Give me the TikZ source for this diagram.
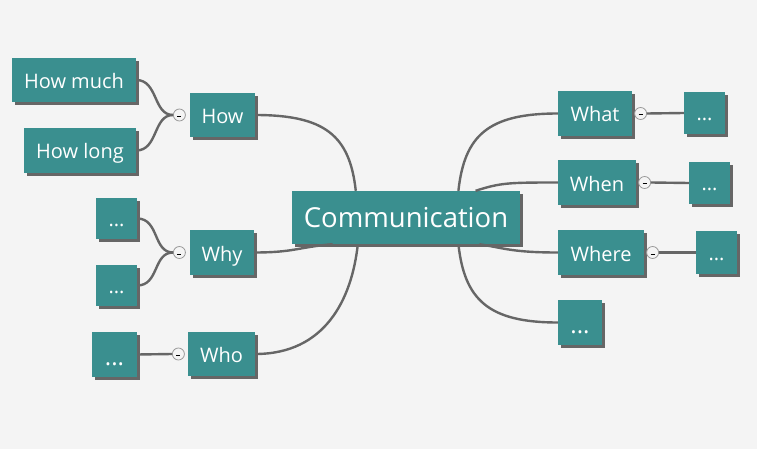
\documentclass[tikz,border=0pt]{standalone}
\usepackage{fontspec}
\setmainfont{Open Sans}
\usetikzlibrary{positioning,shadows}

\definecolor{mapteal}{RGB}{58,143,143}
\definecolor{mapgray}{RGB}{102,102,102}
\definecolor{mapback}{RGB}{244,244,244}
\newcommand{\knobdash}{\raisebox{-4pt}{\rule{4pt}{1pt}}}

\begin{document}
\begin{tikzpicture}[x=1pt,y=-1pt,
    topic/.style={rectangle, fill=mapteal, text=white, inner sep=0pt, minimum height=44pt,
      font=\fontsize{20}{24}\selectfont, text height=18pt, text depth=1pt,
      drop shadow={shadow xshift=3pt, shadow yshift=-3pt, fill=mapgray, opacity=1}},
    dots/.style={topic, text height=16pt, text depth=1pt},
    bigdots/.style={topic, font=\fontsize{24}{28}\selectfont, text height=23pt, text depth=1pt},
    knob/.style={circle, draw=gray!80, fill=mapback, line width=0.8pt, minimum size=12pt, inner sep=0pt},
    branch/.style={draw=mapgray, line width=2.4pt}]

      \fill [mapback] (0,0) rectangle (757,449);
   %   \draw[help lines, step=10] (0,0) grid (757,449);

      % centre
      \node [topic, minimum width=228pt, minimum height=53pt, font=\fontsize{27.5}{32}\selectfont,
             text height=20pt, text depth=0pt] (comm) at (406,217.5) {Communication};

      % left side
      \node [topic, minimum width=65pt] (how) at (222.5,115) {How};
      \node [knob, left=4pt of how] (howknob) {\knobdash};
      \node [topic, minimum width=124pt] (howmuch) at (74,80) {How much};
      \node [topic, minimum width=112pt, minimum height=45pt] (howlong) at (80,150.5) {How long};

      \node [topic, minimum width=64pt, minimum height=45pt] (why) at (222,252.5) {Why};
      \node [knob, left=4pt of why] (whyknob) {\knobdash};
      \node [dots, minimum width=41pt, minimum height=41pt] (whyone) at (116.5,218.5) {...};
      \node [dots, minimum width=41pt, minimum height=41pt] (whytwo) at (116.5,285.5) {...};

      \node [topic, minimum width=67pt] (who) at (221.5,354) {Who};
      \node [knob, left=3pt of who] (whoknob) {\knobdash};
      \node [bigdots, minimum width=45pt, minimum height=45pt] (whoone) at (114.5,354.5) {...};

      % right side
      \node [topic, minimum width=74pt, minimum height=45pt] (what) at (595,113.5) {What};
      \node [knob, right=2pt of what] (whatknob) {\knobdash};
      \node [dots, minimum width=41pt, minimum height=42pt] (whatone) at (704.5,113) {...};

      \node [topic, minimum width=78pt, minimum height=45pt] (when) at (597,182.5) {When};
      \node [knob, right=2pt of when] (whenknob) {\knobdash};
      \node [dots, minimum width=41pt, minimum height=42pt] (whenone) at (709.5,183) {...};

      \node [topic, minimum width=86pt, minimum height=45pt] (where) at (601,252.5) {Where};
      \node [knob, right=2pt of where] (whereknob) {\knobdash};
      \node [dots, minimum width=41pt, minimum height=43pt] (whereone) at (716.5,252.5) {...};

      \node [bigdots, minimum width=44pt, minimum height=45pt] (more) at (580,322.5) {...};

      % main branches
      \draw [branch] (how.east) .. controls +(70,0) and +(-6,-55) .. (comm.152);
      \draw [branch] (why.east) .. controls +(40,0) and +(-35,3) .. (comm.200);
      \draw [branch] (who.east) .. controls +(70,0) and +(-6,55) .. (comm.209);
      \draw [branch] (what.west) .. controls +(-70,0) and +(6,-55) .. (comm.27.5);
      \draw [branch] (when.west) .. controls +(-50,0) and +(25,-8) .. (comm.21);
      \draw [branch] (where.west) .. controls +(-45,0) and +(25,4) .. (comm.340);
      \draw [branch] (more.west) .. controls +(-70,0) and +(6,55) .. (comm.333);

      % sub branches
      \draw [branch] (howmuch.east) .. controls +(22,0) and +(-20,0) .. (howknob.west);
      \draw [branch] (howlong.east) .. controls +(22,0) and +(-20,0) .. (howknob.west);
      \draw [branch] (whyone.east) .. controls +(22,0) and +(-20,0) .. (whyknob.west);
      \draw [branch] (whytwo.east) .. controls +(22,0) and +(-20,0) .. (whyknob.west);
      \draw [branch] (whoone.east) -- (whoknob.west);
      \draw [branch] (whatknob.east) -- (whatone.west);
      \draw [branch] (whenknob.east) -- (whenone.west);
      \draw [branch] (whereknob.east) -- (whereone.west);

    \end{tikzpicture}
\end{document}
